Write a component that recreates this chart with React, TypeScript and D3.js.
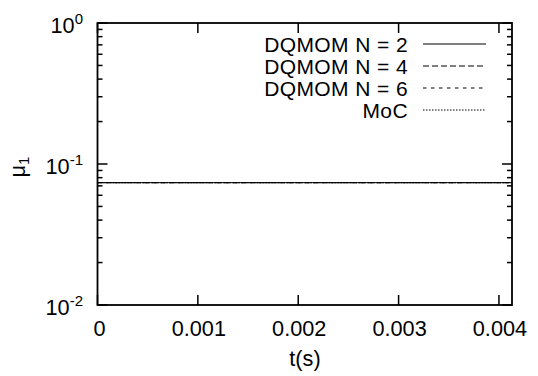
import React from "react";
import * as d3 from "d3";

const times = [0, 0.001, 0.002, 0.003, 0.004, 0.00413];
const dqmomN2 = [0.0737, 0.0737, 0.0737, 0.0737, 0.0737, 0.0737];
const dqmomN4 = [0.0737, 0.0737, 0.0737, 0.0737, 0.0737, 0.0737];
const dqmomN6 = [0.0737, 0.0737, 0.0737, 0.0737, 0.0737, 0.0737];
const moc = [0.0737, 0.0737, 0.0737, 0.0737, 0.0737, 0.0737];
const seriesNames = ["DQMOM N = 2", "DQMOM N = 4", "DQMOM N = 6", "MoC"];
const xTicks = [0, 0.001, 0.002, 0.003, 0.004];
const xTickLabels = ["0", "0.001", "0.002", "0.003", "0.004"];
const yMajor = [0.01, 0.1, 1];
const yExponents = ["-2", "-1", "0"];

const W = 538;
const H = 376;
const L = 97.5, R = 512, T = 23, B = 305;
const FONT = "Liberation Sans, Arial, Helvetica, sans-serif";
const FS = 21.7;

export default function App() {
  const x = d3.scaleLinear().domain([0, 0.00413]).range([L, R]);
  const y = d3.scaleLog().domain([0.01, 1]).range([B, T]);
  const seriesData = [dqmomN2, dqmomN4, dqmomN6, moc];
  const dashes = ["none", "6,3", "3.5,4.5", "1.5,1.5"];
  const line = d3
    .line<number>()
    .x((_, i) => x(times[i]))
    .y((d) => y(d));

  const minor: number[] = [];
  for (let e = -2; e < 0; e++) {
    for (let k = 2; k <= 9; k++) minor.push(k * Math.pow(10, e));
  }

  return (
    <svg
      width={W}
      height={H}
      style={{ position: "absolute", left: 0, top: 0, background: "#fff" }}
      fontFamily={FONT}
    >
      <rect width={W} height={H} fill="#fff" />
      {seriesData.map((s, i) => (
        <path
          key={i}
          d={line(s) || ""}
          fill="none"
          stroke="#000"
          strokeWidth={1}
          strokeDasharray={dashes[i]}
        />
      ))}
      {yMajor.map((v) => (
        <g key={"ym" + v}>
          <line x1={L} x2={L + 10} y1={y(v)} y2={y(v)} stroke="#000" strokeWidth={1.5} />
          <line x1={R} x2={R - 10} y1={y(v)} y2={y(v)} stroke="#000" strokeWidth={1.5} />
        </g>
      ))}
      {minor.map((v) => (
        <g key={"yn" + v}>
          <line x1={L} x2={L + 5} y1={y(v)} y2={y(v)} stroke="#000" strokeWidth={1.5} />
          <line x1={R} x2={R - 5} y1={y(v)} y2={y(v)} stroke="#000" strokeWidth={1.5} />
        </g>
      ))}
      {yMajor.map((v, i) => (
        <text key={"yl" + v} x={83} y={y(v) + 9.5} textAnchor="end" fontSize={FS} fill="#000">
          10
          <tspan fontSize={15} dy={-9}>{yExponents[i]}</tspan>
        </text>
      ))}
      {xTicks.map((v, i) => (
        <g key={"x" + v}>
          <line x1={x(v)} x2={x(v)} y1={B} y2={B - 10} stroke="#000" strokeWidth={1.5} />
          <line x1={x(v)} x2={x(v)} y1={T} y2={T + 10} stroke="#000" strokeWidth={1.5} />
          <text x={x(v) + (i === 0 ? 2 : 1)} y={B + 31} textAnchor="middle" fontSize={FS} fill="#000">
            {xTickLabels[i]}
          </text>
        </g>
      ))}
      <rect x={L} y={T} width={R - L} height={B - T} fill="none" stroke="#000" strokeWidth={1.8} />
      <text x={305} y={366} textAnchor="middle" fontSize={FS} fill="#000">
        t(s)
      </text>
      <text
        transform="translate(25,167) rotate(-90)"
        textAnchor="middle"
        fontSize={FS}
        fill="#000"
      >
        μ<tspan fontSize={15} dy={4}>1</tspan>
      </text>
      {seriesNames.map((n, i) => {
        const ly = 44 + i * 22;
        return (
          <g key={n}>
            <text
              x={408}
              y={ly + 7.6}
              textAnchor="end"
              fontSize={21}
              letterSpacing={0.4}
              fill="#000"
            >
              {n}
            </text>
            <line
              x1={423}
              x2={486}
              y1={ly}
              y2={ly}
              stroke="#000"
              strokeWidth={1}
              strokeDasharray={dashes[i]}
            />
          </g>
        );
      })}
    </svg>
  );
}
